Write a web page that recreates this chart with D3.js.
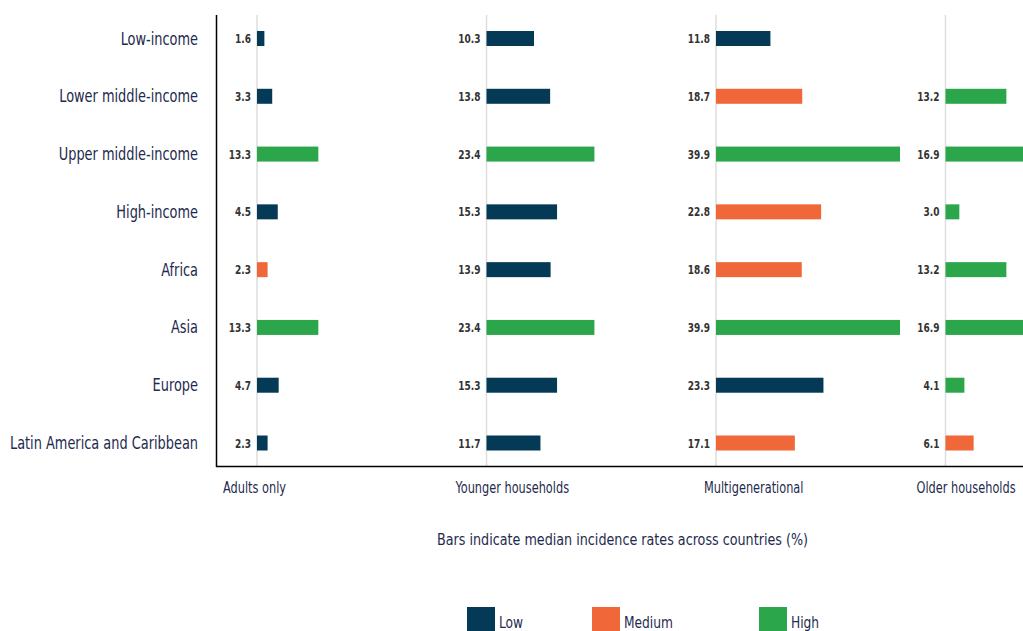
<!DOCTYPE html>
<html>
<head>
<meta charset="utf-8">
<script src="https://cdn.jsdelivr.net/npm/d3@7"></script>
<style>
  body { margin: 0; background: #fff; }
  svg { font-family: "DejaVu Sans Condensed", "DejaVu Sans", sans-serif; font-stretch: condensed; }
</style>
</head>
<body>
<div id="chart"></div>
<script>
// categorias (filas)
const categories = ['Low-income', 'Lower middle-income', 'Upper middle-income', 'High-income',
    'Africa', 'Asia', 'Europe', 'Latin America and Caribbean'];
// tipos de hogar (paneles)
const households = ['Adults only', 'Younger households', 'Multigenerational', 'Older households'];

const adultsOnly = [1.6, 3.3, 13.3, 4.5, 2.3, 13.3, 4.7, 2.3];
const adultsLevel = ['Low', 'Low', 'High', 'Low', 'Medium', 'High', 'Low', 'Low'];
const younger = [10.3, 13.8, 23.4, 15.3, 13.9, 23.4, 15.3, 11.7];
const youngerLevel = ['Low', 'Low', 'High', 'Low', 'Low', 'High', 'Low', 'Low'];
const multigen = [11.8, 18.7, 39.9, 22.8, 18.6, 39.9, 23.3, 17.1];
const multigenLevel = ['Low', 'Medium', 'High', 'Medium', 'Medium', 'High', 'Low', 'Medium'];
const older = [null, 13.2, 16.9, 3.0, 13.2, 16.9, 4.1, 6.1];
const olderLevel = [null, 'High', 'High', 'High', 'High', 'High', 'High', 'Medium'];

const levels = ['Low', 'Medium', 'High'];

const series = [
    { values: adultsOnly, levels: adultsLevel },
    { values: younger, levels: youngerLevel },
    { values: multigen, levels: multigenLevel },
    { values: older, levels: olderLevel }
];

const width = 1023, height = 631;
const textColor = '#1e2a4e';

const color = d3.scaleOrdinal()
    .domain(levels)
    .range(['#053a57', '#f0673a', '#2ca64b']);

const svg = d3.select('#chart').append('svg')
    .attr('width', width)
    .attr('height', height);

// paneles
const panelX = d3.scalePoint()
    .domain(households)
    .range([257, 945.5]);

const x = d3.scaleLinear()
    .domain([0, 39.9])
    .range([0, 184]);

const y = d3.scalePoint()
    .domain(categories)
    .range([38.5, 443]);
const barH = 15;

// estrecha el texto (fuente condensada)
function squeeze(sel, k) {
    sel.each(function () {
        let len = this.getComputedTextLength();
        this.setAttribute('textLength', len * k);
        this.setAttribute('lengthAdjust', 'spacingAndGlyphs');
    });
}

// lineas guia de cada panel
svg.selectAll('.grid')
    .data(households)
    .join('line')
    .attr('x1', d => panelX(d)).attr('x2', d => panelX(d))
    .attr('y1', 15).attr('y2', 466)
    .attr('stroke', '#dddddd')
    .attr('stroke-width', 1.5);

// ejes
svg.append('line')
    .attr('x1', 216.5).attr('x2', 216.5)
    .attr('y1', 15).attr('y2', 467)
    .attr('stroke', '#000').attr('stroke-width', 1.5);
svg.append('line')
    .attr('x1', 216).attr('x2', width)
    .attr('y1', 466.5).attr('y2', 466.5)
    .attr('stroke', '#000').attr('stroke-width', 1.5);

// etiquetas de categoria
svg.selectAll('.cat')
    .data(categories)
    .join('text')
    .attr('x', 198)
    .attr('y', d => y(d) + 6)
    .attr('text-anchor', 'end')
    .attr('fill', textColor)
    .style('font-size', '17.5px')
    .text(d => d)
    .call(squeeze, 0.82);

// barras y valores
series.forEach((s, i) => {
    let px = panelX(households[i]);
    let rows = categories.map((c, j) => ({ cat: c, v: s.values[j], lvl: s.levels[j] }))
        .filter(d => d.v !== null);

    let g = svg.append('g').attr('transform', 'translate(' + px + ',0)');

    g.selectAll('rect')
        .data(rows)
        .join('rect')
        .attr('x', 0)
        .attr('y', d => y(d.cat) - barH / 2)
        .attr('width', d => x(d.v))
        .attr('height', barH)
        .attr('fill', d => color(d.lvl));

    g.selectAll('text')
        .data(rows)
        .join('text')
        .attr('x', -6)
        .attr('y', d => y(d.cat) + 4.5)
        .attr('text-anchor', 'end')
        .attr('fill', '#333')
        .style('font-size', '12.5px')
        .style('font-weight', 'bold')
        .text(d => d.v.toFixed(1))
        .call(squeeze, 0.8);
});

// nombres de los paneles
const panelLabelOffset = [-34, -31, -12, -29];
svg.selectAll('.plabel')
    .data(households)
    .join('text')
    .attr('x', (d, i) => panelX(d) + panelLabelOffset[i])
    .attr('y', 493)
    .attr('fill', textColor)
    .style('font-size', '15px')
    .text(d => d)
    .call(squeeze, 0.84);

// titulo del eje
svg.append('text')
    .attr('x', 437)
    .attr('y', 545)
    .attr('fill', textColor)
    .style('font-size', '16px')
    .text('Bars indicate median incidence rates across countries (%)')
    .attr('textLength', 371)
    .attr('lengthAdjust', 'spacingAndGlyphs');

// leyenda
const legendX = d3.scaleOrdinal().domain(levels).range([467, 592, 759]);
let legend = svg.selectAll('.legend-item')
    .data(levels)
    .join('g')
    .attr('class', 'legend-item')
    .attr('transform', d => 'translate(' + legendX(d) + ',607)');

legend.append('rect')
    .attr('width', 28)
    .attr('height', 24)
    .attr('fill', d => color(d));

legend.append('text')
    .attr('x', 32)
    .attr('y', 21)
    .attr('fill', textColor)
    .style('font-size', '16px')
    .text(d => d)
    .call(squeeze, 0.85);
</script>
</body>
</html>
